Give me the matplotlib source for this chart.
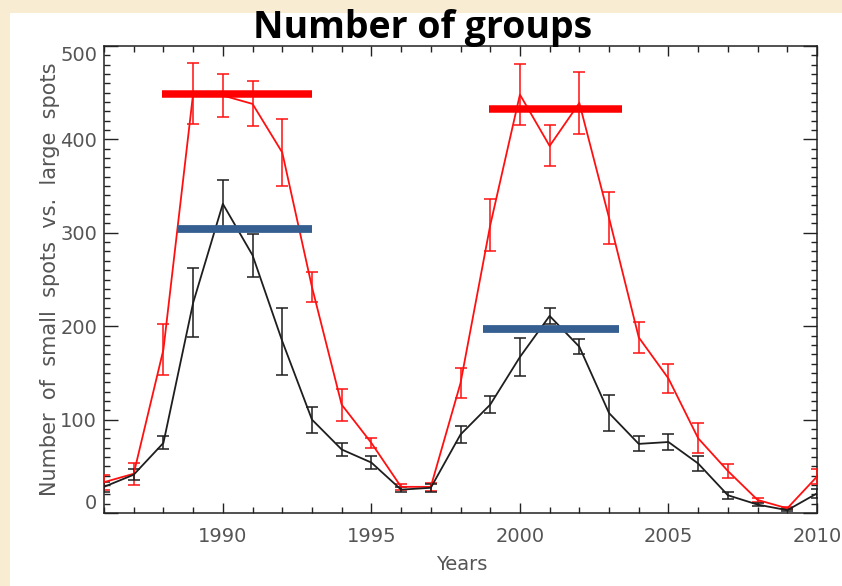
import numpy as np
import matplotlib.pyplot as plt
from matplotlib.ticker import MultipleLocator
from matplotlib.patches import Rectangle

# yearly group counts, 1986-2010
years = np.arange(1986, 2011)
large = [33, 42, 175, 449, 447, 438, 386, 242, 116, 75, 28, 28, 139, 308,
         448, 393, 439, 316, 188, 144, 80, 45, 14, 5, 39]
large_err = [8, 12, 27, 33, 23, 24, 36, 16, 17, 5, 3, 4, 16, 28,
             33, 22, 33, 28, 17, 16, 16, 7, 2, 1, 8]
small = [28, 41, 75, 225, 331, 276, 184, 100, 68, 54, 25, 27, 84, 116,
         167, 211, 178, 107, 74, 76, 53, 19, 9, 3, 21]
small_err = [5, 6, 7, 37, 26, 23, 36, 14, 7, 7, 3, 4, 9, 9,
             20, 9, 8, 19, 8, 9, 8, 4, 2, 1, 5]

# cycle means: (start, end, level)
large_means = [(1987.95, 1993.0, 449), (1998.95, 2003.45, 433)]
small_means = [(1988.45, 1993.0, 304), (1998.75, 2003.35, 197)]

xticks = [1990, 1995, 2000, 2005, 2010]
yticks = [0, 100, 200, 300, 400, 500]

RED = '#ff1010'
BLACK = '#1e1e1e'
BLUE = '#365f91'
GREY = '#555555'

fig = plt.figure(figsize=(8.42, 5.86), dpi=100)
fig.patch.set_facecolor('#f8ecd2')
fig.patches.append(Rectangle((10 / 842, 0), 1, 1 - 13 / 586, transform=fig.transFigure,
                             facecolor='white', edgecolor='none', zorder=-10))

ax = fig.add_axes([104 / 842, 1 - 513 / 586, 713 / 842, 467 / 586])
ax.set_facecolor('white')

ax.errorbar(years, large, yerr=large_err, color=RED, lw=1.3, elinewidth=1.1,
            capsize=4, capthick=1.1, zorder=3)
ax.errorbar(years, small, yerr=small_err, color=BLACK, lw=1.3, elinewidth=1.1,
            capsize=4, capthick=1.1, zorder=3)

for x0, x1, lev in large_means:
    ax.plot([x0, x1], [lev, lev], color='#ff0000', lw=5.4, solid_capstyle='butt', zorder=4)
for x0, x1, lev in small_means:
    ax.plot([x0, x1], [lev, lev], color=BLUE, lw=5.6, solid_capstyle='butt', zorder=4)

ax.set_xlim(1986, 2010)
ax.set_ylim(0, 500)
ax.set_xticks(xticks)
ax.set_yticks(yticks)
ax.xaxis.set_minor_locator(MultipleLocator(1))
ax.yaxis.set_minor_locator(MultipleLocator(10))

ax.tick_params(which='both', direction='in', top=True, right=True, color='#222222', width=1)
ax.tick_params(axis='x', which='major', length=7, pad=10)
ax.tick_params(axis='x', which='minor', length=4.5)
ax.tick_params(axis='y', which='major', length=10, pad=5)
ax.tick_params(axis='y', which='minor', length=4.5)
ax.tick_params(which='major', labelsize=14, labelcolor=GREY)
for s in ax.spines.values():
    s.set_color('#222222')
    s.set_linewidth(1.1)

# keep the end labels inside the frame
ylabels = ax.get_yticklabels()
ylabels[0].set_va('bottom')
ylabels[-1].set_va('top')

fig.text(50 / 842, 1 - 279 / 586, 'Number  of  small  spots  vs.  large  spots',
         rotation=90, ha='center', va='center', fontsize=15, color=GREY)
fig.text(462 / 842, 1 - 565 / 586, 'Years', ha='center', va='center',
         fontsize=14, color=GREY)
fig.text(423 / 842, 1 - 28 / 586, 'Number of groups', ha='center', va='center',
         fontsize=27, fontweight='bold', family='Open Sans', color='black')

fig.savefig('out.png', dpi=100, facecolor=fig.get_facecolor())
